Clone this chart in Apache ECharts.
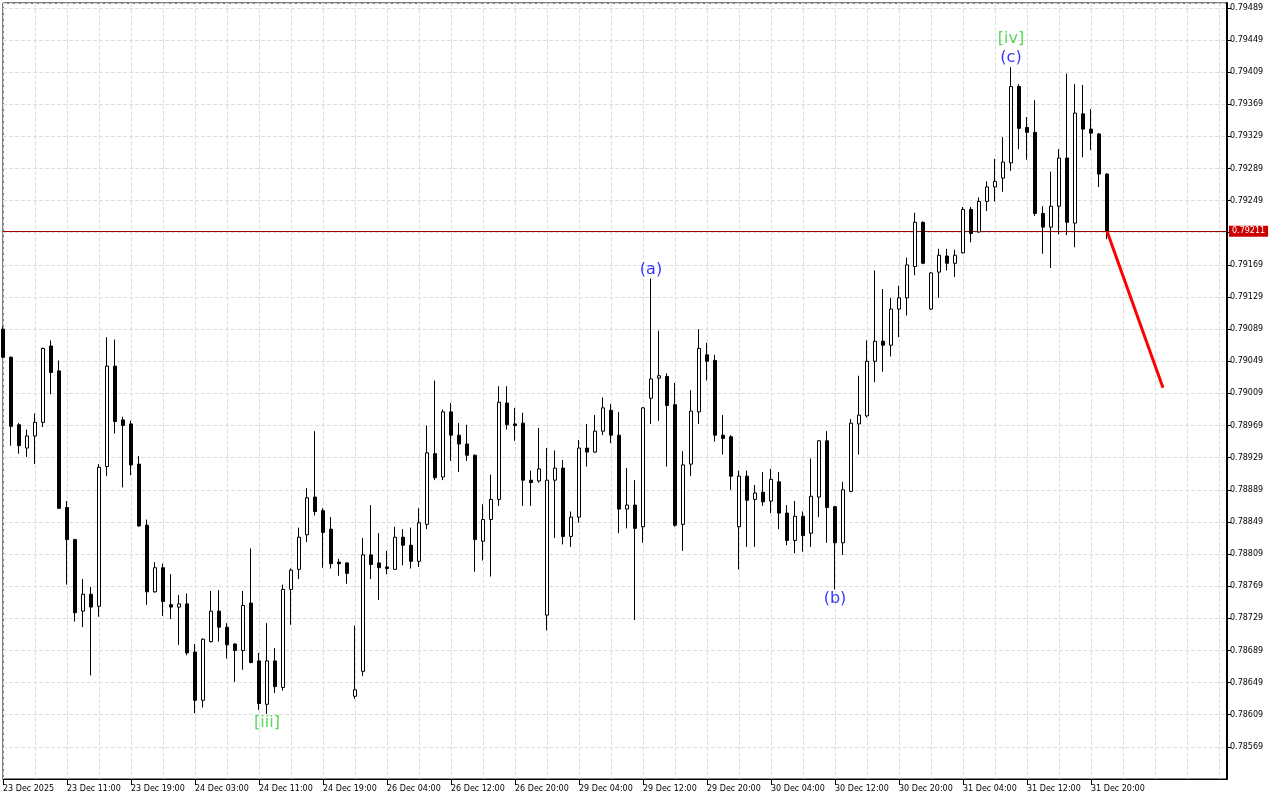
<!DOCTYPE html>
<html><head><meta charset="utf-8">
<script src="https://cdn.jsdelivr.net/npm/echarts@6/dist/echarts.min.js"></script>
<style>html,body{margin:0;padding:0;background:#fff}#c{width:1280px;height:800px}</style>
</head><body><div id="c"></div>
<script>
const tickLabels = ['23 Dec 2025','23 Dec 11:00','23 Dec 19:00','24 Dec 03:00','24 Dec 11:00','24 Dec 19:00','26 Dec 04:00','26 Dec 12:00','26 Dec 20:00','29 Dec 04:00','29 Dec 12:00','29 Dec 20:00','30 Dec 04:00','30 Dec 12:00','30 Dec 20:00','31 Dec 04:00','31 Dec 12:00','31 Dec 20:00'];

const opens = [0.79089,0.79054,0.78970,0.78941,0.78956,0.78973,0.79068,0.79037,0.78867,0.78827,
0.78738,0.78759,0.78744,0.78918,0.79043,0.78976,0.78971,0.78921,0.78845,0.78762,
0.78792,0.78746,0.78743,0.78747,0.78687,0.78627,0.78700,0.78738,0.78718,0.78697,
0.78689,0.78748,0.78676,0.78622,0.78676,0.78643,0.78765,0.78790,0.78833,0.78880,
0.78863,0.78840,0.78799,0.78798,0.78632,0.78663,0.78808,0.78798,0.78793,0.78790,
0.78830,0.78820,0.78800,0.78846,0.78934,0.78905,0.78986,0.78957,0.78946,0.78932,
0.78825,0.78852,0.78877,0.78997,0.78971,0.78972,0.78901,0.78900,0.78733,0.78901,
0.78916,0.78831,0.78855,0.78941,0.78936,0.78962,0.78988,0.78957,0.78865,0.78870,
0.78843,0.79003,0.79028,0.79030,0.78995,0.78846,0.78921,0.78986,0.79057,0.79050,
0.78957,0.78955,0.78843,0.78906,0.78877,0.78886,0.78875,0.78899,0.78860,0.78826,
0.78856,0.78835,0.78880,0.78950,0.78868,0.78823,0.78887,0.78971,0.78981,0.79049,
0.79074,0.79069,0.79114,0.79128,0.79167,0.79222,0.79114,0.79160,0.79180,0.79171,
0.79184,0.79238,0.79210,0.79248,0.79266,0.79277,0.79296,0.79391,0.79340,0.79334,
0.79233,0.79216,0.79242,0.79302,0.79221,0.79357,0.79338,0.79332,0.79282];

const closes = [0.79054,0.78968,0.78944,0.78956,0.78973,0.79065,0.79035,0.78866,0.78827,0.78736,
0.78759,0.78743,0.78917,0.79043,0.78974,0.78969,0.78920,0.78844,0.78762,0.78792,
0.78750,0.78743,0.78747,0.78686,0.78627,0.78703,0.78738,0.78718,0.78696,0.78689,
0.78745,0.78674,0.78623,0.78676,0.78644,0.78765,0.78789,0.78830,0.78879,0.78862,
0.78836,0.78797,0.78797,0.78785,0.78640,0.78808,0.78796,0.78792,0.78791,0.78830,
0.78820,0.78800,0.78848,0.78935,0.78904,0.78986,0.78957,0.78946,0.78932,0.78827,
0.78852,0.78877,0.78998,0.78970,0.78969,0.78901,0.78898,0.78915,0.78901,0.78916,
0.78831,0.78855,0.78941,0.78936,0.78962,0.78991,0.78957,0.78865,0.78870,0.78841,
0.78991,0.79027,0.79031,0.78994,0.78845,0.78920,0.78987,0.79065,0.79049,0.78957,
0.78953,0.78906,0.78906,0.78876,0.78885,0.78874,0.78902,0.78860,0.78826,0.78856,
0.78832,0.78881,0.78950,0.78867,0.78823,0.78889,0.78972,0.78982,0.79049,0.79074,
0.79069,0.79114,0.79128,0.79169,0.79222,0.79171,0.79159,0.79181,0.79171,0.79181,
0.79238,0.79208,0.79248,0.79266,0.79273,0.79297,0.79391,0.79339,0.79334,0.79233,
0.79216,0.79242,0.79302,0.79222,0.79358,0.79338,0.79333,0.79282,0.79211];

const lows = [0.79053,0.78944,0.78934,0.78930,0.78921,0.78967,0.79008,0.78865,0.78771,0.78725,
0.78718,0.78658,0.78731,0.78906,0.78959,0.78892,0.78907,0.78843,0.78746,0.78761,
0.78732,0.78728,0.78696,0.78683,0.78611,0.78618,0.78699,0.78700,0.78679,0.78650,
0.78665,0.78673,0.78615,0.78610,0.78636,0.78639,0.78721,0.78778,0.78824,0.78857,
0.78792,0.78791,0.78782,0.78772,0.78629,0.78657,0.78778,0.78752,0.78784,0.78790,
0.78795,0.78791,0.78793,0.78840,0.78901,0.78901,0.78925,0.78911,0.78925,0.78787,
0.78801,0.78781,0.78869,0.78964,0.78950,0.78869,0.78869,0.78898,0.78714,0.78829,
0.78821,0.78818,0.78848,0.78918,0.78935,0.78957,0.78947,0.78835,0.78841,0.78727,
0.78823,0.78971,0.78975,0.78918,0.78843,0.78813,0.78906,0.78971,0.79025,0.78949,
0.78933,0.78889,0.78790,0.78818,0.78818,0.78869,0.78860,0.78840,0.78820,0.78810,
0.78812,0.78818,0.78855,0.78823,0.78765,0.78808,0.78886,0.78933,0.78979,0.79023,
0.79036,0.79055,0.79079,0.79106,0.79156,0.79170,0.79113,0.79128,0.79162,0.79154,
0.79183,0.79197,0.79209,0.79236,0.79248,0.79260,0.79286,0.79313,0.79300,0.79230,
0.79183,0.79165,0.79207,0.79206,0.79191,0.79303,0.79312,0.79266,0.79201];

const highs = [0.79092,0.79055,0.78972,0.78964,0.78984,0.79066,0.79075,0.79050,0.78875,0.78828,
0.78778,0.78768,0.78921,0.79079,0.79076,0.78980,0.78975,0.78931,0.78852,0.78799,
0.78797,0.78784,0.78758,0.78760,0.78697,0.78704,0.78763,0.78764,0.78723,0.78698,
0.78763,0.78816,0.78686,0.78723,0.78692,0.78771,0.78791,0.78842,0.78891,0.78962,
0.78866,0.78855,0.78803,0.78799,0.78720,0.78829,0.78870,0.78835,0.78813,0.78843,
0.78840,0.78842,0.78866,0.78969,0.79025,0.78989,0.78997,0.78972,0.78970,0.78933,
0.78871,0.78908,0.79018,0.79018,0.78991,0.78985,0.78913,0.78966,0.78941,0.78938,
0.78926,0.78862,0.78951,0.78971,0.78982,0.79004,0.78996,0.78986,0.78916,0.78901,
0.78992,0.79152,0.79087,0.79034,0.79022,0.78937,0.79013,0.79089,0.79072,0.79057,
0.78982,0.78957,0.78913,0.78913,0.78895,0.78911,0.78915,0.78911,0.78870,0.78875,
0.78862,0.78928,0.78951,0.78962,0.78869,0.78899,0.78977,0.79031,0.79075,0.79162,
0.79139,0.79128,0.79143,0.79178,0.79234,0.79223,0.79160,0.79189,0.79189,0.79188,
0.79241,0.79241,0.79253,0.79273,0.79301,0.79328,0.79415,0.79394,0.79353,0.79374,
0.79242,0.79285,0.79313,0.79407,0.79394,0.79393,0.79363,0.79333,0.79283];

const forecastIndex = [138, 145];
const forecastValues = [0.79211, 0.79016];

const waveNames = ['[iii]', '(a)', '(b)', '(c)', '[iv]'];
const waveIndex = [33, 81, 104, 126, 126];
const waveSide = ['low', 'high', 'low', 'high', 'high'];

const totalSlots = 154;
const categories = Array.from({length: totalSlots}, (_, i) => String(i));

const FONT = 'DejaVu Sans';
const gridColor = '#dedede';

const candleData = opens.map((o, i) => [o, closes[i], lows[i], highs[i]]);
const lastClose = closes[closes.length - 1];

const stackCount = {};
const waveData = waveNames.map((name, i) => {
  const idx = waveIndex[i];
  const side = waveSide[i];
  const key = idx + side;
  const n = stackCount[key] || 0;
  stackCount[key] = n + 1;
  const isGreen = name.charAt(0) === '[';
  return {
    value: [idx, side === 'high' ? highs[idx] : lows[idx]],
    label: {
      show: true,
      formatter: name,
      position: side === 'high' ? 'top' : 'bottom',
      distance: 1,
      offset: [0, side === 'high' ? -19 * n : 19 * n],
      color: isGreen ? '#32cd32' : '#0000ff',
      fontFamily: FONT,
      fontSize: 16
    }
  };
});

const labelIv = (i) => i % 8 === 0 && i / 8 < tickLabels.length;

const chart = echarts.init(document.getElementById('c'), null, {renderer: 'canvas'});
chart.setOption({
  animation: false,
  backgroundColor: '#ffffff',
  grid: {left: 2, right: 53, top: 3, bottom: 21, show: true, borderColor: '#000', borderWidth: 1, backgroundColor: '#fff', containLabel: false},
  xAxis: {
    type: 'category',
    data: categories,
    boundaryGap: false,
    axisLine: {show: true, lineStyle: {color: '#000', width: 1}},
    axisTick: {show: true, interval: labelIv, length: 6, lineStyle: {color: '#000'}},
    axisLabel: {
      interval: labelIv,
      formatter: (v, i) => tickLabels[i / 8] || '',
      align: 'left',
      fontFamily: FONT, fontSize: 8, color: '#000', margin: 6
    },
    splitLine: {show: true, interval: (i) => i % 4 === 0, lineStyle: {type: [4, 2], color: gridColor, width: 1}}
  },
  yAxis: {
    type: 'value',
    position: 'right',
    min: 0.78529,
    max: 0.79495,
    interval: 0.0004,
    axisLine: {show: true, lineStyle: {color: '#000', width: 2}},
    axisTick: {show: true, length: 4, lineStyle: {color: '#000'}},
    axisLabel: {
      formatter: (v) => v.toFixed(5),
      showMinLabel: false, showMaxLabel: false,
      fontFamily: FONT, fontSize: 8, color: '#000', margin: 3
    },
    splitLine: {show: true, lineStyle: {type: [4, 2], color: gridColor, width: 1}}
  },
  series: [
    {
      type: 'candlestick',
      data: candleData,
      barWidth: 4,
      z: 3,
      itemStyle: {color: '#ffffff', color0: '#000000', borderColor: '#000000', borderColor0: '#000000', borderWidth: 1}
    },
    {
      type: 'line',
      data: forecastIndex.map((x, i) => [x, forecastValues[i]]),
      symbol: 'none',
      lineStyle: {color: '#ff0000', width: 3},
      z: 5,
      markLine: {
        symbol: 'none',
        silent: true,
        animation: false,
        precision: 5,
        z: 1,
        data: [{yAxis: lastClose}],
        lineStyle: {color: '#a00000', width: 1, type: 'solid'},
        label: {
          position: 'end',
          formatter: () => lastClose.toFixed(5),
          backgroundColor: '#cc0000',
          color: '#ffffff',
          padding: [2, 3, 1, 3],
          fontFamily: FONT, fontSize: 8,
          distance: 2
        }
      }
    },
    {
      type: 'scatter',
      data: waveData,
      symbolSize: 0,
      z: 6
    }
  ]
});
</script>
</body></html>
